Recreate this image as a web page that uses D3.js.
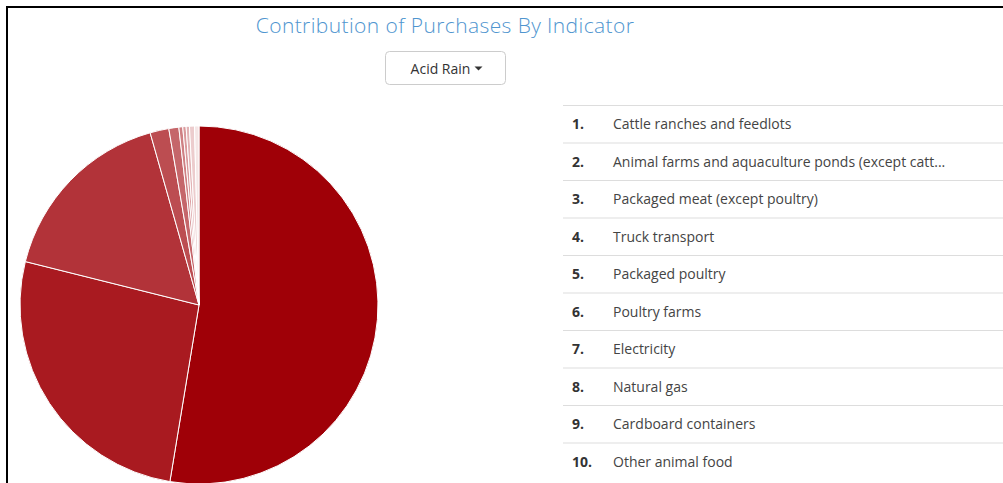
<!DOCTYPE html>
<html lang="en">
<head>
    <meta charset="utf-8">
    <title>Contribution of Purchases By Indicator</title>
    <script src="https://d3js.org/d3.v7.min.js"></script>
    <style>
        body {
            margin: 0;
            background: #fff;
            font-family: "Open Sans", Arial, sans-serif;
        }
        .frame {
            position: absolute;
            left: 6px;
            top: 6px;
            width: 1000px;
            height: 480px;
            border-top: 2px solid #000;
            border-left: 2px solid #000;
        }
        svg {
            position: absolute;
            left: 0;
            top: 0;
        }
        .title {
            font-size: 21px;
            font-weight: 300;
            letter-spacing: 0.4px;
            fill: #4f95cf;
            text-anchor: middle;
        }
        .btn-text {
            font-size: 14px;
            fill: #333;
            text-anchor: middle;
        }
        .rank {
            font-size: 14px;
            font-weight: bold;
            fill: #333;
        }
        .label {
            font-size: 14px;
            fill: #444;
        }
        .sep {
            stroke: #ddd;
            stroke-width: 1px;
        }
        .slice {
            stroke: #fff;
            stroke-width: 1px;
        }
    </style>
</head>
<body>
    <div class="frame"></div>
    <svg width="1003" height="483"></svg>
    <script>
        const title = 'Contribution of Purchases By Indicator';
        const indicator = 'Acid Rain';
        const categories = [
            'Cattle ranches and feedlots',
            'Animal farms and aquaculture ponds (except catt...',
            'Packaged meat (except poultry)',
            'Truck transport',
            'Packaged poultry',
            'Poultry farms',
            'Electricity',
            'Natural gas',
            'Cardboard containers',
            'Other animal food'
        ];
        // share of the indicator, percent
        const shares = [52.6, 26.3, 16.7, 1.7, 0.9, 0.35, 0.3, 0.3, 0.45, 0.4];

        const svg = d3.select('svg');

        svg.append('text')
            .attr('class', 'title')
            .attr('x', 445)
            .attr('y', 33)
            .text(title);

        // dropdown button
        const btn = svg.append('g').attr('transform', 'translate(385.5,51.5)');
        btn.append('rect')
            .attr('width', 120)
            .attr('height', 33)
            .attr('rx', 4)
            .attr('fill', '#fff')
            .attr('stroke', '#ccc');
        btn.append('text')
            .attr('class', 'btn-text')
            .attr('x', 55)
            .attr('y', 22)
            .text(indicator);
        btn.append('path')
            .attr('d', 'M89,15 L97,15 L93,19 Z')
            .attr('fill', '#333');

        // pie
        const color = d3.scaleLinear()
            .domain([0, categories.length])
            .range(['#9f0007', '#ffffff'])
            .interpolate(d3.interpolateRgb);

        const pie = d3.pie().sort(null).value(d => d);
        const arc = d3.arc().innerRadius(0).outerRadius(179);

        svg.append('g')
            .attr('transform', 'translate(199,305)')
            .selectAll('path')
            .data(pie(shares))
            .enter().append('path')
            .attr('class', 'slice')
            .attr('d', arc)
            .attr('fill', (d, i) => color(i));

        // ranked list
        const row = d3.scaleBand()
            .domain(d3.range(categories.length))
            .range([105, 105 + 37.5 * categories.length]);

        const list = svg.append('g');
        const rows = list.selectAll('g')
            .data(categories)
            .enter().append('g')
            .attr('transform', (d, i) => `translate(0,${row(i)})`);

        rows.append('line')
            .attr('class', 'sep')
            .attr('x1', 563)
            .attr('x2', 1003)
            .attr('y1', 0.5)
            .attr('y2', 0.5);
        rows.append('text')
            .attr('class', 'rank')
            .attr('x', 572)
            .attr('y', 24)
            .text((d, i) => (i + 1) + '.');
        rows.append('text')
            .attr('class', 'label')
            .attr('x', 613)
            .attr('y', 24)
            .text(d => d);
    </script>
</body>
</html>
